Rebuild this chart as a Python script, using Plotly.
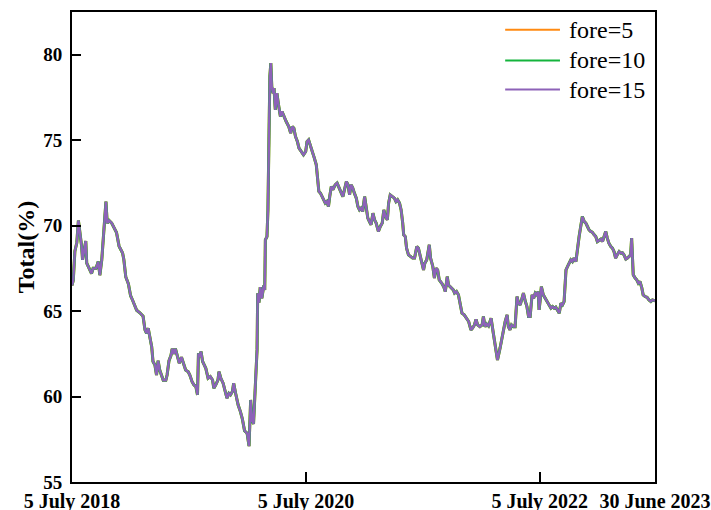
import plotly.graph_objects as go

# Sampled observation dates and Total(%) values
DATES = [
    "2018-07-05", "2018-07-09", "2018-07-14", "2018-07-20", "2018-07-25", "2018-07-28",
    "2018-08-01", "2018-08-04", "2018-08-07", "2018-08-11", "2018-08-17", "2018-08-20",
    "2018-08-25", "2018-08-30", "2018-09-04", "2018-09-09", "2018-09-18", "2018-09-25",
    "2018-09-30", "2018-10-06", "2018-10-11", "2018-10-16", "2018-10-19", "2018-10-23",
    "2018-10-29", "2018-11-06", "2018-11-13", "2018-11-21", "2018-11-29", "2018-12-04",
    "2018-12-10", "2018-12-14", "2018-12-20", "2018-12-28", "2019-01-04", "2019-01-10",
    "2019-01-17", "2019-01-23", "2019-02-02", "2019-02-12", "2019-02-18", "2019-02-23",
    "2019-02-28", "2019-03-05", "2019-03-11", "2019-03-15", "2019-03-21", "2019-03-26",
    "2019-03-31", "2019-04-05", "2019-04-11", "2019-04-16", "2019-04-24", "2019-04-28",
    "2019-05-04", "2019-05-10", "2019-05-14", "2019-05-19", "2019-05-24", "2019-05-29",
    "2019-06-05", "2019-06-12", "2019-06-17", "2019-06-25", "2019-07-03", "2019-07-08",
    "2019-07-15", "2019-07-21", "2019-07-27", "2019-08-01", "2019-08-04", "2019-08-08",
    "2019-08-12", "2019-08-17", "2019-08-22", "2019-08-27", "2019-09-03", "2019-09-10",
    "2019-09-17", "2019-09-21", "2019-09-27", "2019-10-04", "2019-10-07", "2019-10-13",
    "2019-10-20", "2019-10-27", "2019-11-01", "2019-11-07", "2019-11-12", "2019-11-18",
    "2019-11-22", "2019-11-28", "2019-12-06", "2019-12-13", "2019-12-19", "2019-12-26",
    "2020-01-03", "2020-01-09", "2020-01-14", "2020-01-18", "2020-01-23", "2020-01-30",
    "2020-02-03", "2020-02-05", "2020-02-09", "2020-02-13", "2020-02-18", "2020-02-24",
    "2020-02-27", "2020-02-29", "2020-03-05", "2020-03-08", "2020-03-11", "2020-03-14",
    "2020-03-17", "2020-03-20", "2020-03-24", "2020-03-27", "2020-03-31", "2020-04-05",
    "2020-04-10", "2020-04-16", "2020-04-21", "2020-04-27", "2020-05-04", "2020-05-12",
    "2020-05-18", "2020-05-23", "2020-05-28", "2020-06-02", "2020-06-08", "2020-06-13",
    "2020-06-20", "2020-06-27", "2020-07-04", "2020-07-08", "2020-07-13", "2020-07-18",
    "2020-07-25", "2020-07-31", "2020-08-06", "2020-08-10", "2020-08-14", "2020-08-19",
    "2020-08-25", "2020-08-30", "2020-09-03", "2020-09-08", "2020-09-13", "2020-09-17",
    "2020-09-22", "2020-09-27", "2020-10-04", "2020-10-10", "2020-10-17", "2020-10-23",
    "2020-10-28", "2020-11-02", "2020-11-08", "2020-11-13", "2020-11-18", "2020-11-23",
    "2020-11-28", "2020-12-03", "2020-12-09", "2020-12-14", "2020-12-19", "2020-12-24",
    "2020-12-29", "2021-01-04", "2021-01-09", "2021-01-14", "2021-01-19", "2021-01-24",
    "2021-01-30", "2021-02-04", "2021-02-09", "2021-02-16", "2021-02-22", "2021-02-28",
    "2021-03-05", "2021-03-10", "2021-03-16", "2021-03-20", "2021-03-25", "2021-03-31",
    "2021-04-07", "2021-04-12", "2021-04-17", "2021-04-23", "2021-04-28", "2021-05-03",
    "2021-05-06", "2021-05-11", "2021-05-15", "2021-05-21", "2021-05-27", "2021-06-03",
    "2021-06-09", "2021-06-16", "2021-06-21", "2021-06-26", "2021-07-02", "2021-07-07",
    "2021-07-11", "2021-07-17", "2021-07-21", "2021-07-25", "2021-07-29", "2021-08-05",
    "2021-08-10", "2021-08-15", "2021-08-20", "2021-08-25", "2021-09-02", "2021-09-08",
    "2021-09-13", "2021-09-19", "2021-09-23", "2021-10-01", "2021-10-08", "2021-10-12",
    "2021-10-18", "2021-10-24", "2021-10-30", "2021-11-04", "2021-11-11", "2021-11-19",
    "2021-11-25", "2021-12-02", "2021-12-07", "2021-12-13", "2021-12-18", "2021-12-23",
    "2021-12-30", "2022-01-06", "2022-01-10", "2022-01-15", "2022-01-20", "2022-01-26",
    "2022-02-03", "2022-02-10", "2022-02-16", "2022-02-23", "2022-03-03", "2022-03-11",
    "2022-03-19", "2022-03-25", "2022-03-29", "2022-04-03", "2022-04-08", "2022-04-14",
    "2022-04-19", "2022-04-25", "2022-04-30", "2022-05-05", "2022-05-10", "2022-05-15",
    "2022-05-21", "2022-05-26", "2022-05-31", "2022-06-05", "2022-06-11", "2022-06-16",
    "2022-06-21", "2022-06-26", "2022-06-30", "2022-07-03", "2022-07-07", "2022-07-10",
    "2022-07-16", "2022-07-22", "2022-07-29", "2022-08-03", "2022-08-09", "2022-08-14",
    "2022-08-19", "2022-08-24", "2022-08-29", "2022-09-04", "2022-09-09", "2022-09-14",
    "2022-09-19", "2022-09-25", "2022-09-30", "2022-10-05", "2022-10-10", "2022-10-15",
    "2022-10-20", "2022-10-26", "2022-10-31", "2022-11-05", "2022-11-10", "2022-11-15",
    "2022-11-21", "2022-11-26", "2022-12-01", "2022-12-06", "2022-12-11", "2022-12-16",
    "2022-12-22", "2022-12-27", "2023-01-01", "2023-01-06", "2023-01-12", "2023-01-17",
    "2023-01-22", "2023-01-27", "2023-02-01", "2023-02-06", "2023-02-12", "2023-02-17",
    "2023-02-22", "2023-02-27", "2023-03-04", "2023-03-10", "2023-03-15", "2023-03-20",
    "2023-03-25", "2023-03-31", "2023-04-05", "2023-04-10", "2023-04-15", "2023-04-18",
    "2023-04-21", "2023-04-23", "2023-04-29", "2023-05-04", "2023-05-09", "2023-05-14",
    "2023-05-20", "2023-05-24", "2023-05-30", "2023-06-05", "2023-06-11", "2023-06-17",
    "2023-06-22", "2023-06-27", "2023-06-30",
]

TOTAL = [
    66.5, 66.8, 68.5, 69.0, 70.3, 69.9,
    69.3, 68.8, 68.0, 68.4, 69.1, 67.8,
    67.6, 67.5, 67.2, 67.5, 67.5, 67.9,
    67.1, 68.0, 69.4, 70.5, 71.4, 70.15,
    70.3, 70.15, 69.9, 69.6, 68.8, 68.6,
    68.4, 68.0, 67.0, 66.6, 65.9, 65.65,
    65.35, 65.05, 64.9, 64.7, 63.9, 63.7,
    64.0, 63.5, 62.9, 62.05, 61.85, 61.26,
    62.1, 61.55, 61.2, 60.95, 60.95, 61.26,
    62.1, 62.4, 62.8, 62.5, 62.8, 62.4,
    61.95, 62.3, 62.05, 61.55, 61.45, 61.26,
    60.87, 60.68, 60.58, 60.1, 62.53, 62.33,
    62.63, 62.05, 61.85, 61.65, 61.07, 61.17,
    60.97, 60.49, 60.68, 60.97, 61.46, 61.07,
    60.78, 60.19, 59.9, 60.19, 60.1, 60.29,
    60.78, 60.19, 59.5, 59.12, 58.7, 58.0,
    57.85, 57.1, 59.8, 58.63, 58.4, 61.17,
    62.73, 66.05, 65.5, 66.4, 65.75, 66.5,
    66.24, 69.17, 69.36, 70.92, 76.39, 78.73,
    79.51, 78.14, 77.75, 78.05, 76.78, 77.75,
    77.07, 76.39, 76.68, 76.39, 76.09, 75.8,
    75.41, 75.8, 75.7, 75.22, 74.92, 74.53,
    74.34, 74.14, 74.34, 74.92, 75.02, 74.73,
    74.44, 73.95, 73.56, 72.49, 72.0, 71.9,
    71.7, 71.51, 71.32, 71.41, 71.12, 71.7,
    72.29, 72.1, 72.39, 72.49, 72.2, 72.0,
    71.7, 72.1, 72.58, 72.39, 71.8, 72.39,
    72.2, 71.9, 71.61, 71.12, 70.92, 71.02,
    70.83, 71.7, 70.92, 70.44, 70.24, 70.05,
    70.73, 70.34, 70.15, 69.66, 69.95, 70.15,
    70.92, 70.53, 70.34, 71.32, 71.8, 71.7,
    71.61, 71.41, 71.51, 71.32, 70.92, 70.15,
    69.46, 69.36, 68.68, 68.29, 68.19, 68.1,
    68.1, 68.78, 68.68, 68.19, 67.8, 67.41,
    67.8, 68.0, 68.58, 68.88, 68.1, 67.61,
    66.93, 67.51, 67.41, 66.83, 66.63, 66.43,
    66.14, 67.02, 66.53, 66.34, 66.24, 66.05,
    66.14, 65.95, 65.26, 64.88, 64.78, 64.58,
    64.39, 63.9, 64.0, 64.19, 64.52, 64.19,
    64.09, 64.19, 64.68, 64.09, 64.25, 64.13,
    64.58, 63.7, 62.92, 62.14, 62.83, 63.7,
    64.39, 64.78, 64.09, 63.9, 64.19, 64.09,
    64.09, 65.85, 65.46, 65.36, 65.65, 66.05,
    65.56, 65.26, 64.68, 64.68, 65.95, 65.75,
    66.05, 65.95, 66.14, 65.07, 65.75, 66.43,
    65.95, 65.75, 65.56, 65.36, 65.17, 65.26,
    65.17, 65.23, 65.07, 64.88, 65.46, 65.36,
    65.56, 67.41, 67.61, 67.8, 68.0, 67.9,
    68.1, 67.9, 68.78, 69.36, 69.95, 70.53,
    70.24, 70.15, 69.95, 69.75, 69.66, 69.62,
    69.46, 69.36, 69.07, 69.13, 69.21, 69.07,
    69.36, 69.66, 69.27, 68.97, 68.78, 68.68,
    68.48, 68.1, 68.29, 68.48, 68.39, 68.42,
    68.29, 68.04, 68.1, 68.19, 68.29, 69.27,
    68.39, 67.12, 66.93, 66.83, 66.63, 66.73,
    66.34, 65.95, 65.85, 65.81, 65.65, 65.56,
    65.65, 65.61, 65.6,
]

# The three forecast horizons coincide at this scale
FORE_5 = list(TOTAL)
FORE_10 = list(TOTAL)
FORE_15 = list(TOTAL)

SERIES_NAMES = ["fore=5", "fore=10", "fore=15"]
SERIES_COLORS = ["#ff8a12", "#14b43c", "#8d62b8"]
SERIES_WIDTHS = [3.0, 3.0, 2.4]

X_TICKS = ["2018-07-05", "2020-07-05", "2022-07-05", "2023-06-30"]
X_TICK_TEXT = ["5 July 2018", "5 July 2020", "5 July 2022", "30 June 2023"]
Y_TICKS = [55, 60, 65, 70, 75, 80]

SERIF = "Liberation Serif, Times New Roman, serif"

fig = go.Figure()
for name, vals, color, w in zip(SERIES_NAMES, [FORE_5, FORE_10, FORE_15],
                                SERIES_COLORS, SERIES_WIDTHS):
    fig.add_trace(go.Scatter(x=DATES, y=vals, mode="lines", name=name,
                             line=dict(color=color, width=w), showlegend=False))

# Legend block in the upper-right corner: short colour sample + label per series
LEG_X0, LEG_X1, LEG_TEXT_X = 0.743, 0.837, 0.849
LEG_ROWS = [0.962, 0.897, 0.835]
for name, color, ly in zip(SERIES_NAMES, SERIES_COLORS, LEG_ROWS):
    fig.add_shape(type="line", xref="paper", yref="paper",
                  x0=LEG_X0, x1=LEG_X1, y0=ly, y1=ly,
                  line=dict(color=color, width=2))
    fig.add_annotation(xref="paper", yref="paper", x=LEG_TEXT_X, y=ly,
                       xanchor="left", yanchor="middle", showarrow=False,
                       text=name, font=dict(family=SERIF, size=24, color="black"))

fig.update_layout(
    width=711, height=510,
    margin=dict(l=72, r=56, t=12, b=28),
    plot_bgcolor="white", paper_bgcolor="white",
    font=dict(family=SERIF, color="black"),
    showlegend=False,
)

fig.update_xaxes(
    type="date", range=["2018-07-05", "2023-06-30"], automargin=False,
    tickmode="array", tickvals=X_TICKS, ticktext=X_TICK_TEXT,
    ticks="inside", ticklen=10, tickwidth=1.5, tickcolor="black",
    showline=True, mirror=True, linecolor="black", linewidth=2,
    showgrid=False, zeroline=False,
    tickfont=dict(family=SERIF, size=20, color="black", weight="bold"),
)
fig.update_yaxes(
    range=[55, 82.5], tickmode="array", tickvals=Y_TICKS, automargin=False,
    ticks="inside", ticklen=9, tickwidth=1.5, tickcolor="black",
    ticklabelstandoff=4,
    showline=True, mirror=True, linecolor="black", linewidth=2,
    showgrid=False, zeroline=False,
    tickfont=dict(family=SERIF, size=19, color="black", weight="bold"),
    title=dict(text="Total(%)", standoff=2,
               font=dict(family=SERIF, size=24, color="black", weight="bold")),
)

fig.write_html("out.html")
